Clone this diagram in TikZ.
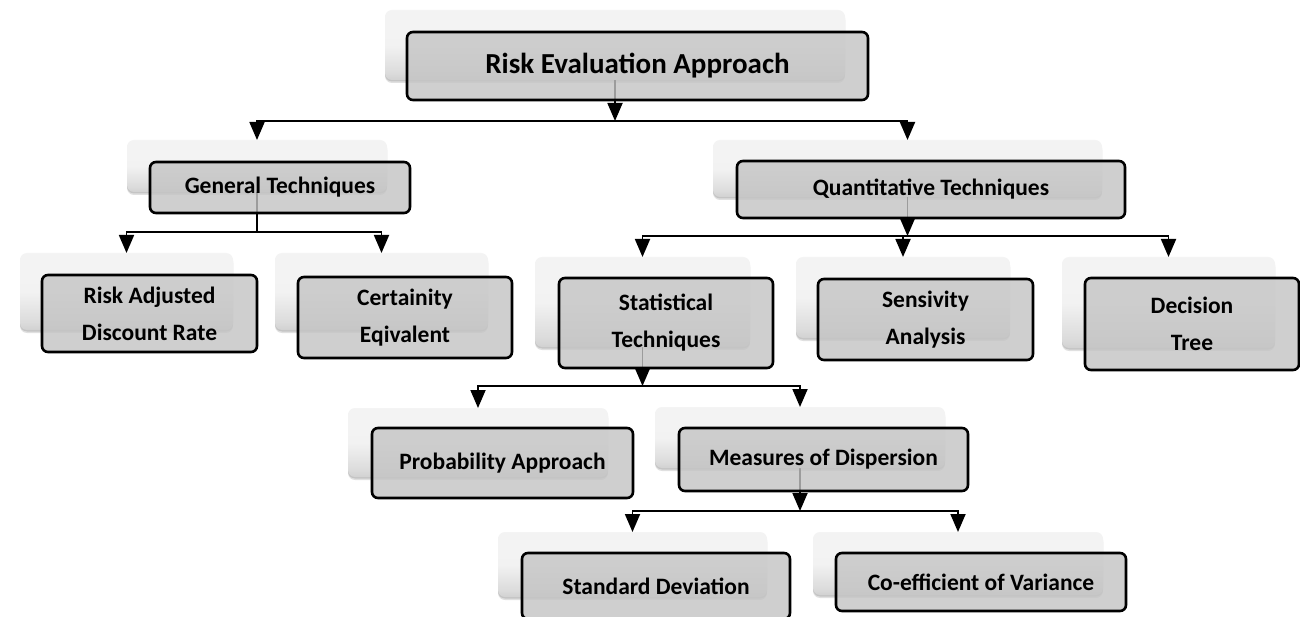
\documentclass[tikz,border=0pt]{standalone}
\usepackage{fontspec}
\setmainfont{Carlito}
\usetikzlibrary{arrows.meta,shadows}
\pgfdeclarelayer{paper}
\pgfdeclarelayer{linklayer}
\pgfsetlayers{paper,linklayer,main}
\pgfdeclareverticalshading{backshade}{100bp}{color(0bp)=(black!38); color(30bp)=(black!14); color(50bp)=(black!5); color(100bp)=(black!4)}
\begin{document}
\begin{tikzpicture}[x=1pt,y=-1pt,
  backbox/.style={rectangle, rounded corners=7pt, shading=backshade, draw=none,
    drop shadow={shadow xshift=0pt, shadow yshift=-3pt, opacity=0.12, fill=black},
    drop shadow={shadow xshift=0pt, shadow yshift=-1.5pt, opacity=0.12, fill=black},
    inner sep=0pt, outer sep=0pt},
  frontbox/.style={rectangle, rounded corners=6pt, draw=black, line width=2.6pt,
    fill=black!23, fill opacity=0.8, text opacity=1, draw opacity=1,
    font=\fontsize{23.5}{37}\selectfont\bfseries, align=center, inner sep=0pt},
  topfont/.style={font=\fontsize{29}{32}\selectfont\bfseries},
  link/.style={line width=1.8pt, draw=black},
  arr/.style={link, -{Triangle[width=15pt,length=18pt]}}]
\useasboundingbox (0,0) rectangle (1300,617);
\begin{pgfonlayer}{paper}
\fill[white] (0,0) rectangle (1300,617);
\end{pgfonlayer}

\coordinate (j1) at (615,121);
\coordinate (j2) at (257,232);
\coordinate (j3) at (907.5,236);
\coordinate (j4) at (642.5,386);
\coordinate (j5) at (800,511);

% back boxes
\node[backbox, minimum width=460pt, minimum height=70pt] (b-top) at (615,45) {};
\node[backbox, minimum width=260pt, minimum height=52pt] (b-gt) at (257,166) {};
\node[backbox, minimum width=389pt, minimum height=57pt] (b-qt) at (907.5,168.5) {};
\node[backbox, minimum width=213pt, minimum height=77pt] (b-rad) at (126.5,291.5) {};
\node[backbox, minimum width=213pt, minimum height=77pt] (b-ce) at (381.5,291.5) {};
\node[backbox, minimum width=215pt, minimum height=90pt] (b-st) at (642.5,302) {};
\node[backbox, minimum width=214pt, minimum height=81pt] (b-sa) at (903,297.5) {};
\node[backbox, minimum width=213pt, minimum height=91pt] (b-dt) at (1168.5,302.5) {};
\node[backbox, minimum width=260pt, minimum height=69pt] (b-pa) at (478,442.5) {};
\node[backbox, minimum width=290pt, minimum height=61pt] (b-md) at (800,437.5) {};
\node[backbox, minimum width=269pt, minimum height=65pt] (b-sd) at (632.5,564.5) {};
\node[backbox, minimum width=290pt, minimum height=63pt] (b-cv) at (958,563.5) {};

% connectors (under the boxes)
\begin{pgfonlayer}{linklayer}
\draw[arr] (b-top.center) -- (j1);
\draw[arr] (j1) -| (b-gt.north);
\draw[arr] (j1) -| (b-qt.north);
\draw[link] (b-gt.center) -- (j2);
\draw[arr] (j2) -| (b-rad.north);
\draw[arr] (j2) -| (b-ce.north);
\draw[arr] (b-qt.center) -- (j3);
\draw[arr] (j3) -| (b-st.north);
\draw[arr] (j3) -| (b-sa.north);
\draw[arr] (j3) -| (b-dt.north);
\draw[arr] (b-st.center) -- (j4);
\draw[arr] (j4) -| (b-pa.north);
\draw[arr] (j4) -| (b-md.north);
\draw[arr] (b-md.center) -- (j5);
\draw[arr] (j5) -| (b-sd.north);
\draw[arr] (j5) -| (b-cv.north);
\end{pgfonlayer}

% front boxes
\node[frontbox, topfont, minimum width=461pt, minimum height=68pt] (f-top) at (637.5,66) {Risk Evaluation Approach};
\node[frontbox, minimum width=260pt, minimum height=51pt] (f-gt) at (280,187.5) {General Techniques};
\node[frontbox, minimum width=388pt, minimum height=57pt] (f-qt) at (931,189.5) {Quantitative Techniques};
\node[frontbox, minimum width=215pt, minimum height=77pt] (f-rad) at (149.5,313.5) {Risk Adjusted\\Discount Rate};
\node[frontbox, minimum width=214pt, minimum height=81pt] (f-ce) at (405,317.5) {Certainity\\Eqivalent};
\node[frontbox, minimum width=214pt, minimum height=90pt] (f-st) at (666,323) {Statistical\\Techniques};
\node[frontbox, minimum width=215pt, minimum height=81pt] (f-sa) at (925.5,319.5) {Sensivity\\Analysis};
\node[frontbox, minimum width=214pt, minimum height=92pt] (f-dt) at (1192,324) {Decision\\Tree};
\node[frontbox, minimum width=261pt, minimum height=70pt] (f-pa) at (502.5,463) {Probability Approach};
\node[frontbox, minimum width=289pt, minimum height=63pt] (f-md) at (823.5,459.5) {Measures of Dispersion};
\node[frontbox, minimum width=268pt, minimum height=66pt] (f-sd) at (656,586) {Standard Deviation};
\node[frontbox, minimum width=290pt, minimum height=58pt] (f-cv) at (981,582) {Co-efficient of Variance};
\end{tikzpicture}
\end{document}
